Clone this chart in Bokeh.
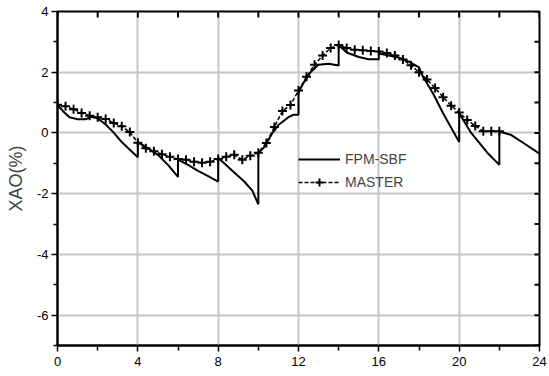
from bokeh.plotting import figure
from bokeh.models import Range1d, FixedTicker, Legend, LegendItem
from bokeh.embed import file_html
from bokeh.resources import INLINE

# FPM-SBF simulation (hours, XAO %); repeated hours mark the 2-hourly resets
fpm_hours = [0.0, 0.3, 0.6, 1.0, 1.4, 1.7, 2.0, 2.4, 2.8, 3.2, 3.6, 4.0,
             4.0, 4.5, 5.0, 5.5, 6.0,
             6.0, 6.5, 7.0, 7.5, 8.0,
             8.0, 8.3, 8.8, 9.3, 9.7, 10.0,
             10.0, 10.3, 10.7, 11.0, 11.5, 11.75, 12.0,
             12.0, 12.3, 12.6, 13.0, 13.5, 14.0,
             14.0, 14.4, 15.0, 15.5, 16.0,
             16.0, 16.5, 17.0, 17.5, 18.0, 18.2, 18.7, 19.2, 20.0,
             20.0, 20.6, 21.4, 22.0,
             22.0, 22.6, 23.2, 24.0]
fpm_xao = [0.92, 0.70, 0.52, 0.45, 0.45, 0.53, 0.48, 0.28, 0.01, -0.30, -0.55, -0.80,
           -0.30, -0.50, -0.72, -1.05, -1.45,
           -0.88, -1.05, -1.25, -1.42, -1.60,
           -0.82, -1.00, -1.30, -1.60, -1.90, -2.35,
           -0.65, -0.46, 0.00, 0.26, 0.52, 0.60, 0.60,
           1.35, 1.70, 2.00, 2.25, 2.28, 2.22,
           2.90, 2.65, 2.50, 2.43, 2.43,
           2.62, 2.55, 2.48, 2.35, 2.16, 1.85, 1.30, 0.65, -0.30,
           0.65, 0.00, -0.65, -1.05,
           0.05, -0.07, -0.33, -0.68]

# MASTER reference run
master_hours = [0.0, 0.4, 0.8, 1.2, 1.6, 2.0, 2.4, 2.8, 3.2, 3.6,
                4.0, 4.4, 4.8, 5.2, 5.6, 6.0, 6.4, 6.8, 7.2, 7.6,
                8.0, 8.4, 8.8, 9.2, 9.6, 10.0, 10.4, 10.8, 11.2, 11.6,
                12.0, 12.4, 12.8, 13.2, 13.6, 14.0, 14.4, 14.8, 15.2, 15.6,
                16.0, 16.4, 16.8, 17.2, 17.6, 18.0, 18.4, 18.8, 19.2, 19.6,
                20.0, 20.4, 20.8, 21.2, 21.6, 22.0]
master_xao = [0.93, 0.88, 0.78, 0.66, 0.57, 0.52, 0.46, 0.33, 0.22, 0.03,
              -0.32, -0.50, -0.60, -0.70, -0.78, -0.86, -0.88, -0.95, -0.98, -0.95,
              -0.86, -0.78, -0.72, -0.88, -0.75, -0.65, -0.33, 0.20, 0.72, 0.92,
              1.40, 1.85, 2.25, 2.55, 2.80, 2.90, 2.80, 2.74, 2.72, 2.70,
              2.68, 2.63, 2.55, 2.42, 2.23, 2.00, 1.76, 1.48, 1.18, 0.90,
              0.67, 0.43, 0.23, 0.06, 0.06, 0.06]

x_major = [0, 4, 8, 12, 16, 20, 24]
x_minor = [2, 6, 10, 14, 18, 22]
y_major = [-6, -4, -2, 0, 2, 4]
y_minor = [-7, -5, -3, -1, 1, 3]
y_labels = ["-6", "-4", "-2", "0", "2", "4"]

X_LO, X_HI = 0, 24
Y_LO, Y_HI = -7, 4
FRAME_W, FRAME_H = 482, 334
FONT = "Liberation Sans"

p = figure(width=549, height=376, x_range=Range1d(X_LO, X_HI), y_range=Range1d(Y_LO, Y_HI),
           output_backend="svg", toolbar_location=None,
           min_border_left=57, min_border_right=10, min_border_top=11, min_border_bottom=31)
p.outline_line_color = "black"
p.outline_line_width = 2
p.background_fill_color = "white"
p.border_fill_color = "white"

# bottom / left axes
for ax in (p.xaxis[0], p.yaxis[0]):
    ax.axis_line_color = "black"
    ax.axis_line_width = 2
    ax.major_tick_line_color = "black"
    ax.major_tick_line_width = 1.5
    ax.minor_tick_line_color = "black"
    ax.minor_tick_line_width = 1.5
    ax.major_tick_in = 0
    ax.minor_tick_in = 0
    ax.major_label_text_font = FONT
    ax.major_label_text_font_size = "13px"
    ax.major_label_text_color = "black"

p.xaxis.ticker = FixedTicker(ticks=x_major, minor_ticks=x_minor)
p.xaxis.major_tick_out = 6
p.xaxis.minor_tick_out = 5
p.xaxis.major_label_standoff = 5

p.yaxis.ticker = FixedTicker(ticks=y_major, minor_ticks=y_minor)
p.yaxis.major_label_overrides = dict(zip(y_major, y_labels))
p.yaxis.major_tick_out = 6
p.yaxis.minor_tick_out = 4
p.yaxis.major_label_standoff = 3
p.yaxis.axis_label = "XAO(%)"
p.yaxis.axis_label_text_font = FONT
p.yaxis.axis_label_text_font_size = "18px"
p.yaxis.axis_label_text_font_style = "normal"
p.yaxis.axis_label_standoff = 8

# grid
p.xgrid.ticker = FixedTicker(ticks=[4, 8, 12, 16, 20])
p.ygrid.ticker = FixedTicker(ticks=[-6, -4, -2, 0, 2])
for g in (p.xgrid[0], p.ygrid[0]):
    g.grid_line_color = "#c6c6c6"
    g.grid_line_width = 2

# inward ticks along the top and right frame edges
top_len = 6 * (Y_HI - Y_LO) / FRAME_H
right_len = 5 * (X_HI - X_LO) / FRAME_W
top_ticks = x_major + x_minor
right_ticks = y_major + y_minor
p.segment(x0=top_ticks, y0=[Y_HI] * len(top_ticks),
          x1=top_ticks, y1=[Y_HI - top_len] * len(top_ticks),
          line_color="black", line_width=2)
p.segment(x0=[X_HI] * len(right_ticks), y0=right_ticks,
          x1=[X_HI - right_len] * len(right_ticks), y1=right_ticks,
          line_color="black", line_width=2)

fpm = p.line(fpm_hours, fpm_xao, line_color="black", line_width=2)
m_line = p.line(master_hours, master_xao, line_color="black", line_width=1.5, line_dash="4 2")
m_pts = p.scatter(master_hours, master_xao, marker="cross", size=9,
                  line_color="black", line_width=2)

legend = Legend(items=[LegendItem(label="FPM-SBF", renderers=[fpm]),
                       LegendItem(label="MASTER", renderers=[m_line, m_pts])],
                location=(241, 153), glyph_width=42, glyph_height=20, label_height=20,
                spacing=3, padding=0, margin=0, label_standoff=5,
                label_text_font=FONT, label_text_font_size="14px",
                background_fill_alpha=0, border_line_color=None)
p.add_layout(legend)

open("out.html", "w").write(file_html(p, INLINE))
